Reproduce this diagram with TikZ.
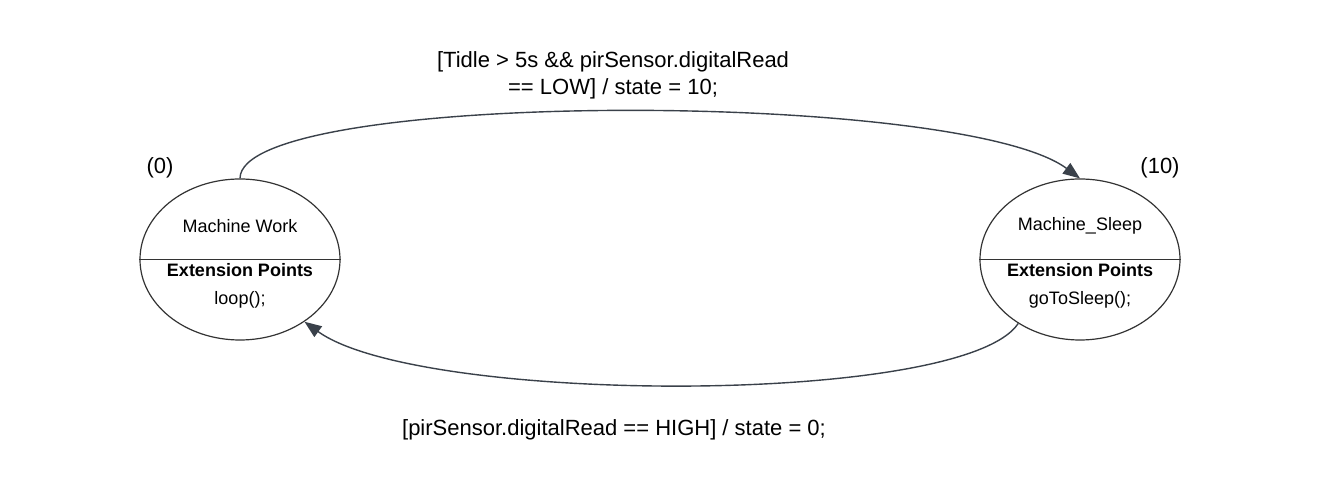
\documentclass[tikz,border=0pt]{standalone}
\usepackage{fontspec}
\setmainfont{Liberation Sans}
\usepackage{tikz}
\usetikzlibrary{arrows.meta,shapes.geometric,positioning}
\usepackage{xcolor}
\definecolor{umlline}{RGB}{51,51,51}
\definecolor{umlarrow}{RGB}{58,65,74}
\tikzstyle{state} = [ellipse, draw=umlline, line width=1.2pt, minimum width=200pt, minimum height=161pt, inner sep=0pt]
\tikzstyle{trans} = [line width=1.4pt, color=umlarrow, -{Triangle[length=17pt,width=13pt]}]
\tikzstyle{lbl} = [font=\fontsize{22}{27}\selectfont, align=center, text=black]
\tikzstyle{txt} = [font=\fontsize{18}{22}\selectfont]
\tikzstyle{txtb} = [font=\fontsize{18}{22}\selectfont\bfseries]

\begin{document}
\begin{tikzpicture}[x=1pt,y=1pt]
    \useasboundingbox (0,0) rectangle (1320,500);

    % states
    \node[state] (work) at (240,240.5) {};
    \node[state] (sleep) at (1080,240.5) {};
    \draw[umlline, line width=1.2pt] (work.west) -- (work.east);
    \draw[umlline, line width=1.2pt] (sleep.west) -- (sleep.east);

    \node[txt] (workname) at (240,274) {Machine Work};
    \node[txtb] (workext) at (240,230) {Extension Points};
    \node[txt] (workop) at (240,200) {loop();};
    \node[lbl] (worknum) at (160,332) {(0)};

    \node[txt] (sleepname) at (1080,274) {Machine\_Sleep};
    \node[txtb] (sleepext) at (1080,230) {Extension Points};
    \node[txt] (sleepop) at (1080,200) {goToSleep();};
    \node[lbl] (sleepnum) at (1160,332) {(10)};

    % transitions
    \draw[trans] (work.north) .. controls +(0,89) and +(-120,89) .. (sleep.north);
    \draw[trans] (sleep.226) .. controls +(-55,-83) and +(115,-83) .. (work.-44);

    \node[lbl] (tosleep) at (613,425) {[Tidle > 5s \&\& pirSensor.digitalRead\\== LOW] / state = 10;};
    \node[lbl] (towork) at (614,70.5) {[pirSensor.digitalRead == HIGH] / state = 0;};
\end{tikzpicture}
\end{document}
